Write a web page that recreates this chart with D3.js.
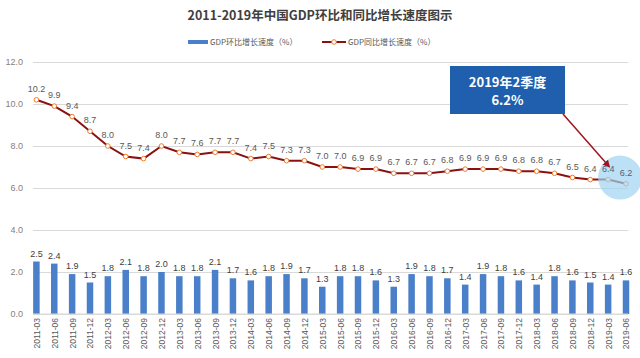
<!DOCTYPE html>
<html><head><meta charset="utf-8">
<script src="https://cdn.jsdelivr.net/npm/d3@7/dist/d3.min.js"></script>
<style>
html,body{margin:0;padding:0;background:#fff;}
svg{display:block;font-family:"Noto Sans CJK SC","Noto Sans",sans-serif;}
</style></head>
<body><svg id="c" width="640" height="358"></svg>
<script>
const quarters = ["2011-03","2011-06","2011-09","2011-12","2012-03","2012-06","2012-09","2012-12","2013-03","2013-06","2013-09","2013-12","2014-03","2014-06","2014-09","2014-12","2015-03","2015-06","2015-09","2015-12","2016-03","2016-06","2016-09","2016-12","2017-03","2017-06","2017-09","2017-12","2018-03","2018-06","2018-09","2018-12","2019-03","2019-06"];
const qoq = [2.5,2.4,1.9,1.5,1.8,2.1,1.8,2.0,1.8,1.8,2.1,1.7,1.6,1.8,1.9,1.7,1.3,1.8,1.8,1.6,1.3,1.9,1.8,1.7,1.4,1.9,1.8,1.6,1.4,1.8,1.6,1.5,1.4,1.6];
const yoy = [10.2,9.9,9.4,8.7,8.0,7.5,7.4,8.0,7.7,7.6,7.7,7.7,7.4,7.5,7.3,7.3,7.0,7.0,6.9,6.9,6.7,6.7,6.7,6.8,6.9,6.9,6.9,6.8,6.8,6.7,6.5,6.4,6.4,6.2];
const yTicks = [0,2,4,6,8,10,12];
const title = "2011-2019年中国GDP环比和同比增长速度图示";
const legendBar = "GDP环比增长速度（%）";
const legendLine = "GDP同比增长速度（%）";
const noteLines = ["2019年2季度","6.2%"];

const svg = d3.select("#c");
const plotL = 33, plotR = 628;
const x = d3.scalePoint().domain(quarters).range([36.4, 626]);
const y = d3.scaleLinear().domain([0,12]).range([314, 62]);

// title
svg.append("text").attr("x",320).attr("y",20).attr("text-anchor","middle")
  .attr("font-size",12.5).attr("font-weight","bold").attr("fill","#404040").text(title);

// legend
const lg = svg.append("g").attr("font-size",8).attr("fill","#595959");
lg.append("rect").attr("x",188).attr("y",40).attr("width",20).attr("height",4).attr("fill","#4a7fc9");
lg.append("text").attr("x",210).attr("y",45).text(legendBar);
lg.append("line").attr("x1",322).attr("x2",346).attr("y1",42).attr("y2",42).attr("stroke","#8b1010").attr("stroke-width",2);
lg.append("circle").attr("cx",334).attr("cy",42).attr("r",2.3).attr("fill","#fff").attr("stroke","#ed7d31").attr("stroke-width",1);
lg.append("text").attr("x",348).attr("y",45).text(legendLine);

// grid + y axis
const yAxis = d3.axisLeft(y).tickValues(yTicks).tickFormat(d3.format(".1f")).tickSize(-(plotR-plotL)).tickPadding(10);
const ga = svg.append("g").attr("transform",`translate(${plotL},0)`).call(yAxis);
ga.select(".domain").remove();
ga.selectAll(".tick line").attr("stroke","#d9d9d9").attr("stroke-width",1);
ga.selectAll(".tick text").attr("font-size",9).attr("fill","#7f7f7f").attr("font-family","'Liberation Sans','Noto Sans',sans-serif");

// bars
const bw = 6.5;
svg.append("g").selectAll("rect").data(qoq).join("rect")
  .attr("x",(d,i)=>x(quarters[i])-bw/2).attr("width",bw)
  .attr("y",d=>y(d)).attr("height",d=>y(0)-y(d)).attr("fill","#4a7fc9");
svg.append("g").selectAll("text").data(qoq).join("text")
  .attr("x",(d,i)=>x(quarters[i])).attr("y",d=>y(d)-5)
  .attr("text-anchor","middle").attr("font-size",9).attr("fill","#404040")
  .attr("font-family","'Liberation Sans','Noto Sans',sans-serif")
  .text(d=>d.toFixed(1));

// x axis
const xAxis = d3.axisBottom(x).tickSize(0).tickPadding(4);
const gx = svg.append("g").attr("transform",`translate(0,${y(0)})`).call(xAxis);
gx.select(".domain").remove();
svg.append("line").attr("x1",plotL).attr("x2",plotR).attr("y1",y(0)).attr("y2",y(0)).attr("stroke","#d9d9d9");
gx.selectAll(".tick text").attr("font-size",8.5).attr("fill","#595959")
  .attr("font-family","'Liberation Sans','Noto Sans',sans-serif")
  .attr("transform","rotate(-90)").attr("text-anchor","end").attr("x",-4).attr("y",0).attr("dy","0.35em");

// line
const line = d3.line().x((d,i)=>x(quarters[i])).y(d=>y(d));
svg.append("path").datum(yoy).attr("d",line).attr("fill","none").attr("stroke","#8b1010").attr("stroke-width",2);
svg.append("g").selectAll("circle").data(yoy).join("circle")
  .attr("cx",(d,i)=>x(quarters[i])).attr("cy",d=>y(d)).attr("r",2.3)
  .attr("fill","#fff").attr("stroke","#ed7d31").attr("stroke-width",1);

// highlight circle (over the line, under the labels)
const last = quarters.length-1;
svg.append("circle").attr("cx",(x(quarters[last-1])+x(quarters[last]))/2+3).attr("cy",y(6.4)-2)
  .attr("r",22).attr("fill","#9fd4f2").attr("opacity",0.7);

svg.append("g").selectAll("text").data(yoy).join("text")
  .attr("x",(d,i)=>x(quarters[i])).attr("y",d=>y(d)-8)
  .attr("text-anchor","middle").attr("font-size",9)
  .attr("fill",(d,i)=>i>=last-1 ? "#4f5f78" : "#595959")
  .attr("font-family","'Liberation Sans','Noto Sans',sans-serif")
  .text(d=>d.toFixed(1));

// annotation arrow
const defs = svg.append("defs");
defs.append("marker").attr("id","ah").attr("viewBox","0 0 10 10").attr("refX",8).attr("refY",5)
  .attr("markerWidth",5).attr("markerHeight",5).attr("orient","auto")
  .append("path").attr("d","M0,0L10,5L0,10z").attr("fill","#a0141e");
svg.append("line").attr("x1",563).attr("y1",114).attr("x2",x(quarters[last-1])+1).attr("y2",y(6.4)-13)
  .attr("stroke","#a0141e").attr("stroke-width",1.5).attr("marker-end","url(#ah)");

// annotation box
svg.append("rect").attr("x",450).attr("y",66).attr("width",115).attr("height",48).attr("fill","#1f5fad");
svg.append("g").selectAll("text").data(noteLines).join("text")
  .attr("x",507.5).attr("y",(d,i)=>87+i*18).attr("text-anchor","middle")
  .attr("font-size",13).attr("font-weight","bold").attr("fill","#fff").text(d=>d);
</script></body></html>
